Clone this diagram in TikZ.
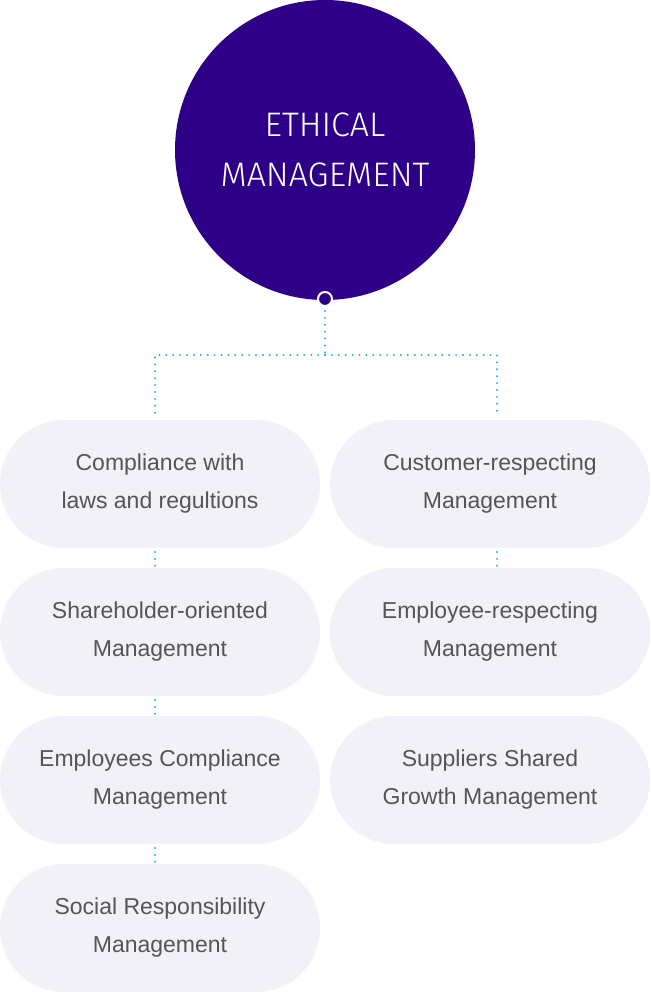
\documentclass[tikz,border=0pt]{standalone}
\usepackage{fontspec}
\setmainfont{Liberation Sans}
\newfontfamily\titlefont{Fira Sans Light}
\definecolor{purp}{HTML}{2E0088}
\definecolor{boxc}{HTML}{F2F1F7}
\definecolor{txt}{HTML}{555555}
\definecolor{cyan}{HTML}{19B8CF}
\begin{document}
\begin{tikzpicture}[x=1pt,y=-1pt,
  pill/.style={fill=boxc,rounded corners=64pt,minimum width=320pt,minimum height=128pt,inner sep=0pt,text=txt,align=center,font=\fontsize{23}{38}\selectfont},
  dots/.style={cyan,line width=2.2pt,dash pattern=on 0pt off 6.9pt,line cap=round}]
\useasboundingbox (0,0) rectangle (650,992);
\node[circle,fill=purp,minimum size=300pt,inner sep=0pt,text=white,align=center,font=\titlefont\fontsize{34}{50}\selectfont] (top) at (325,150) {ETHICAL\\MANAGEMENT};
\node[circle,fill=purp,draw=white,line width=2pt,minimum size=14pt,inner sep=0pt] (dot) at (325,299) {};
\node[pill] (l1) at (160,484) {Compliance with\\laws and regultions};
\node[pill] (l2) at (160,632) {Shareholder-oriented\\Management};
\node[pill] (l3) at (160,780) {Employees Compliance\\Management};
\node[pill] (l4) at (160,928) {Social Responsibility\\Management};
\node[pill] (r1) at (490,484) {Customer-respecting\\Management};
\node[pill] (r2) at (490,632) {Employee-respecting\\Management};
\node[pill] (r3) at (490,780) {Suppliers Shared\\Growth Management};
\coordinate (j) at (325,355);
\draw[dots] (325,311) -- (j);
\draw[dots] (j) -- (155,355) -- (155,416);
\draw[dots] (j) -- (497,355) -- (497,416);
\draw[dots] (155,552) -- (155,566);
\draw[dots] (155,700) -- (155,714);
\draw[dots] (155,848) -- (155,862);
\draw[dots] (497,552) -- (497,566);
\end{tikzpicture}
\end{document}
